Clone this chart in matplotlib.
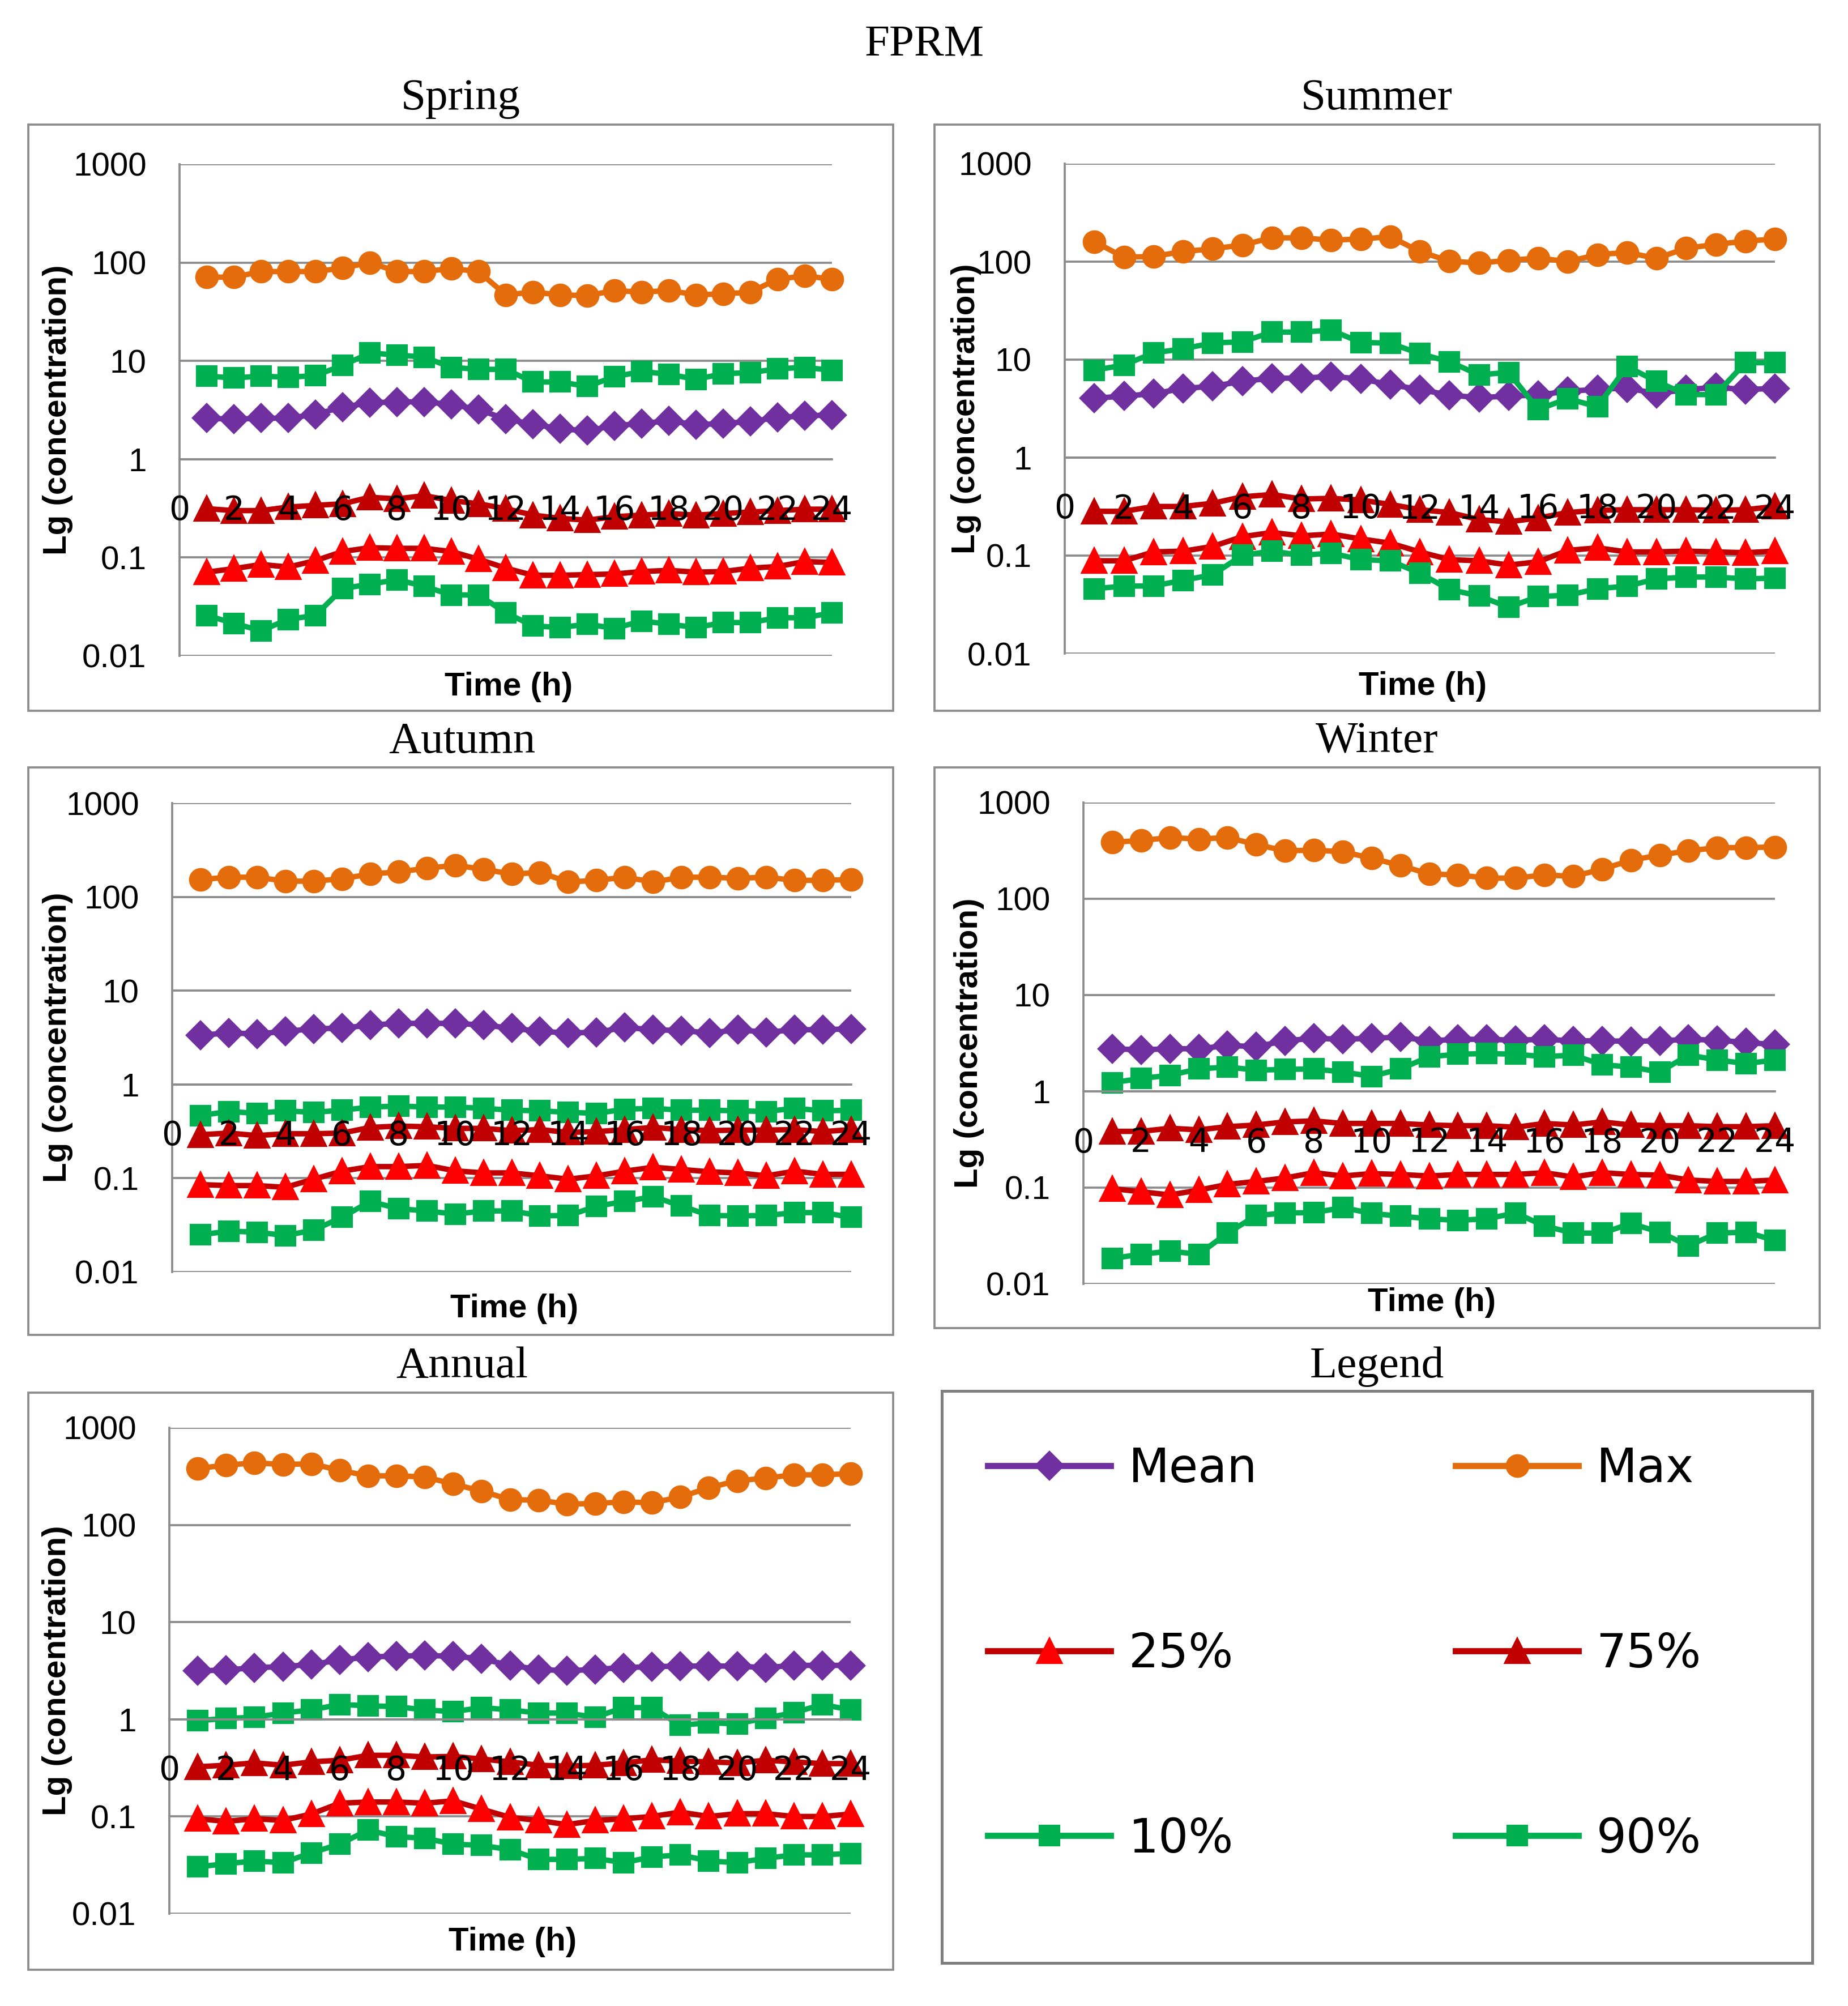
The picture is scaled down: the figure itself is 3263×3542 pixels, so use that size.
import matplotlib.pyplot as plt
from matplotlib.lines import Line2D
from matplotlib.patches import Rectangle

# hours of the day
hours = list(range(1, 25))
xticks = list(range(0, 25, 2))
yticks = [0.01, 0.1, 1, 10, 100, 1000]
ytick_labels = ['0.01', '0.1', '1', '10', '100', '1000']

spring_max = [71, 71, 81, 81, 81, 88, 100, 81, 81, 87, 81, 47, 50, 47, 46, 52, 50, 52, 47, 48, 50, 68, 73, 68]
spring_p90 = [7.0, 6.7, 7.0, 6.8, 7.1, 9.0, 12.0, 11.5, 10.9, 8.6, 8.2, 8.2, 6.1, 6.1, 5.5, 6.9, 7.8, 7.3, 6.5, 7.4, 7.6, 8.3, 8.6, 8.0]
spring_mean = [2.61, 2.55, 2.61, 2.61, 2.86, 3.39, 3.74, 3.83, 3.83, 3.6, 3.21, 2.55, 2.28, 2.03, 1.95, 2.19, 2.31, 2.46, 2.24, 2.31, 2.42, 2.65, 2.76, 2.82]
spring_p75 = [0.314, 0.30, 0.30, 0.326, 0.339, 0.352, 0.41, 0.395, 0.426, 0.38, 0.352, 0.314, 0.27, 0.25, 0.24, 0.26, 0.27, 0.28, 0.27, 0.28, 0.29, 0.30, 0.31, 0.31]
spring_p25 = [0.071, 0.077, 0.085, 0.080, 0.093, 0.115, 0.126, 0.124, 0.124, 0.115, 0.096, 0.078, 0.066, 0.066, 0.067, 0.068, 0.072, 0.074, 0.071, 0.072, 0.078, 0.081, 0.091, 0.089]
spring_p10 = [0.0258, 0.0214, 0.018, 0.0235, 0.0258, 0.0484, 0.0535, 0.0595, 0.051, 0.0416, 0.0416, 0.0274, 0.0202, 0.0194, 0.021, 0.019, 0.0226, 0.021, 0.0194, 0.0218, 0.0218, 0.0244, 0.0244, 0.0274]

summer_max = [160, 111, 113, 127, 135, 148, 175, 175, 166, 170, 180, 127, 101, 97, 103, 109, 100, 118, 124, 108, 137, 150, 162, 170]
summer_p90 = [7.8, 8.8, 11.7, 12.9, 14.8, 15.2, 19.1, 19.1, 20.0, 15.0, 14.7, 11.5, 9.5, 7.0, 7.4, 3.1, 4.0, 3.3, 8.5, 6.0, 4.4, 4.4, 9.3, 9.3]
summer_mean = [4.03, 4.25, 4.49, 5.07, 5.35, 6.0, 6.47, 6.47, 6.73, 6.37, 5.55, 4.96, 4.34, 4.09, 4.25, 4.34, 4.77, 4.96, 5.14, 4.49, 4.96, 5.2, 4.96, 5.07]
summer_p75 = [0.283, 0.283, 0.317, 0.317, 0.342, 0.398, 0.42, 0.378, 0.384, 0.369, 0.333, 0.294, 0.275, 0.233, 0.221, 0.242, 0.275, 0.29, 0.294, 0.294, 0.294, 0.29, 0.294, 0.317]
summer_p25 = [0.0885, 0.0885, 0.109, 0.111, 0.124, 0.156, 0.172, 0.159, 0.166, 0.148, 0.134, 0.109, 0.091, 0.0885, 0.080, 0.0865, 0.113, 0.12, 0.109, 0.109, 0.111, 0.109, 0.107, 0.111]
summer_p10 = [0.0459, 0.0488, 0.049, 0.056, 0.0637, 0.1007, 0.111, 0.1007, 0.106, 0.091, 0.0885, 0.066, 0.045, 0.0388, 0.0297, 0.0382, 0.0394, 0.0459, 0.0488, 0.0578, 0.0604, 0.0604, 0.0578, 0.059]

autumn_max = [153, 162, 162, 147, 147, 156, 175, 185, 202, 217, 197, 175, 182, 144, 150, 162, 144, 162, 162, 158, 162, 150, 150, 153]
autumn_mean = [3.35, 3.54, 3.46, 3.68, 3.92, 3.98, 4.3, 4.48, 4.48, 4.48, 4.3, 3.98, 3.68, 3.54, 3.6, 4.05, 3.83, 3.75, 3.54, 3.83, 3.6, 3.83, 3.83, 3.92]
autumn_p90 = [0.466, 0.515, 0.492, 0.523, 0.504, 0.531, 0.574, 0.588, 0.574, 0.574, 0.557, 0.531, 0.523, 0.504, 0.492, 0.544, 0.557, 0.531, 0.531, 0.523, 0.515, 0.557, 0.523, 0.531]
autumn_p75 = [0.291, 0.303, 0.285, 0.298, 0.298, 0.303, 0.348, 0.36, 0.354, 0.34, 0.34, 0.322, 0.33, 0.308, 0.314, 0.33, 0.348, 0.33, 0.322, 0.326, 0.326, 0.33, 0.314, 0.33]
autumn_p25 = [0.0855, 0.0835, 0.0835, 0.080, 0.0977, 0.119, 0.133, 0.133, 0.137, 0.12, 0.114, 0.114, 0.106, 0.0977, 0.106, 0.119, 0.131, 0.124, 0.117, 0.114, 0.106, 0.119, 0.11, 0.11]
autumn_p10 = [0.0249, 0.0273, 0.0266, 0.0245, 0.028, 0.0383, 0.0566, 0.0473, 0.0448, 0.0414, 0.0448, 0.0448, 0.0398, 0.040, 0.0503, 0.0566, 0.0636, 0.0506, 0.040, 0.0398, 0.040, 0.043, 0.043, 0.0383]

winter_max = [387, 402, 433, 417, 433, 366, 315, 320, 308, 264, 222, 181, 177, 164, 164, 177, 171, 203, 251, 285, 315, 340, 340, 345]
winter_mean = [2.77, 2.7, 2.77, 2.77, 2.99, 2.92, 3.35, 3.56, 3.47, 3.56, 3.66, 3.35, 3.47, 3.47, 3.4, 3.47, 3.35, 3.35, 3.31, 3.35, 3.47, 3.4, 3.22, 3.06]
winter_p90 = [1.23, 1.36, 1.47, 1.71, 1.79, 1.66, 1.69, 1.71, 1.59, 1.43, 1.71, 2.29, 2.43, 2.47, 2.43, 2.29, 2.38, 1.89, 1.79, 1.59, 2.38, 2.12, 1.94, 2.12]
winter_p75 = [0.384, 0.384, 0.414, 0.398, 0.43, 0.447, 0.482, 0.493, 0.464, 0.464, 0.464, 0.447, 0.44, 0.44, 0.424, 0.464, 0.447, 0.482, 0.447, 0.44, 0.44, 0.43, 0.43, 0.44]
winter_p25 = [0.0977, 0.0906, 0.084, 0.0942, 0.108, 0.116, 0.126, 0.143, 0.132, 0.14, 0.137, 0.132, 0.137, 0.137, 0.137, 0.143, 0.129, 0.143, 0.137, 0.135, 0.12, 0.116, 0.116, 0.12]
winter_p10 = [0.0184, 0.0203, 0.0219, 0.0203, 0.0337, 0.0513, 0.0545, 0.055, 0.062, 0.054, 0.0505, 0.0475, 0.0457, 0.0475, 0.0545, 0.040, 0.0337, 0.0337, 0.0424, 0.0345, 0.0249, 0.0337, 0.0345, 0.0283]

annual_max = [382, 412, 436, 419, 426, 365, 320, 320, 312, 264, 223, 182, 180, 164, 166, 173, 169, 194, 241, 285, 303, 328, 328, 337]
annual_mean = [3.15, 3.22, 3.4, 3.48, 3.67, 4.06, 4.39, 4.46, 4.53, 4.46, 4.19, 3.59, 3.27, 3.15, 3.27, 3.4, 3.48, 3.53, 3.53, 3.53, 3.4, 3.59, 3.59, 3.59]
annual_p90 = [0.97, 1.02, 1.05, 1.16, 1.25, 1.42, 1.38, 1.35, 1.25, 1.2, 1.32, 1.25, 1.16, 1.16, 1.05, 1.32, 1.32, 0.87, 0.92, 0.9, 1.03, 1.17, 1.42, 1.25]
annual_p75 = [0.325, 0.337, 0.356, 0.337, 0.365, 0.379, 0.426, 0.426, 0.41, 0.415, 0.39, 0.365, 0.337, 0.33, 0.337, 0.356, 0.383, 0.372, 0.365, 0.356, 0.379, 0.365, 0.35, 0.35]
annual_p25 = [0.0948, 0.0891, 0.0948, 0.0912, 0.106, 0.137, 0.141, 0.141, 0.137, 0.145, 0.119, 0.098, 0.091, 0.0824, 0.091, 0.0948, 0.1, 0.111, 0.1, 0.107, 0.107, 0.1, 0.1, 0.106]
annual_p10 = [0.0303, 0.0327, 0.0348, 0.0335, 0.0422, 0.052, 0.0724, 0.0621, 0.0597, 0.052, 0.0504, 0.0456, 0.0362, 0.0362, 0.0371, 0.0335, 0.0384, 0.0403, 0.0348, 0.0335, 0.0371, 0.0403, 0.0403, 0.0417]

series_names = ['Max', 'Mean', '90%', '75%', '25%', '10%']

seasons = [
    ('Spring', [spring_max, spring_mean, spring_p90, spring_p75, spring_p25, spring_p10]),
    ('Summer', [summer_max, summer_mean, summer_p90, summer_p75, summer_p25, summer_p10]),
    ('Autumn', [autumn_max, autumn_mean, autumn_p90, autumn_p75, autumn_p25, autumn_p10]),
    ('Winter', [winter_max, winter_mean, winter_p90, winter_p75, winter_p25, winter_p10]),
    ('Annual', [annual_max, annual_mean, annual_p90, annual_p75, annual_p25, annual_p10]),
]

styles = {
    'Mean': dict(color='#7030A0', marker='D', ms=8, mfc='#7030A0', mec='#7030A0'),
    'Max': dict(color='#E46C0A', marker='o', ms=9, mfc='#E46C0A', mec='#E46C0A'),
    '25%': dict(color='#C00000', marker='^', ms=10, mfc='#FF0000', mec='#FF0000'),
    '75%': dict(color='#C00000', marker='^', ms=10, mfc='#C00000', mec='#C00000'),
    '10%': dict(color='#00B050', marker='s', ms=8, mfc='#00B050', mec='#00B050'),
    '90%': dict(color='#00B050', marker='s', ms=8, mfc='#00B050', mec='#00B050'),
}

W, H = 3263, 3542
fig = plt.figure(figsize=(W / 300, H / 300), dpi=300)
GRID = '#8C8C8C'
SANS = 'Liberation Sans'
SERIF = 'Liberation Serif'


def fx(px):
    return px / W


def fy(py):
    return 1 - py / H


# layout in pixels: outer box, plot area, title position, label offsets
layout = {
    'Spring': dict(box=(50, 220, 1577, 1255), plot=(317, 290, 1469, 1158), title=(813, 174), ylab=-0.163, xlab=-0.032),
    'Summer': dict(box=(1650, 220, 3213, 1255), plot=(1880, 289, 3134, 1154), title=(2431, 174), ylab=-0.117, xlab=-0.036),
    'Autumn': dict(box=(50, 1355, 1577, 2357), plot=(304, 1418, 1503, 2246), title=(816, 1310), ylab=-0.146, xlab=-0.046),
    'Winter': dict(box=(1650, 1355, 3213, 2345), plot=(1913, 1417, 3134, 2267), title=(2431, 1310), ylab=-0.143, xlab=-0.007),
    'Annual': dict(box=(50, 2459, 1577, 3478), plot=(299, 2521, 1502, 3379), title=(816, 2413), ylab=-0.142, xlab=-0.027),
}

fig.text(fx(1632), fy(79), 'FPRM', ha='center', va='center', family=SERIF, fontsize=19)

for name, values in seasons:
    lay = layout[name]
    x0, y0, x1, y1 = lay['box']
    fig.add_artist(Rectangle((fx(x0), fy(y1)), fx(x1 - x0), (y1 - y0) / H,
                             transform=fig.transFigure, fill=False, edgecolor=GRID, linewidth=0.9))
    fig.text(fx(lay['title'][0]), fy(lay['title'][1]), name, ha='center', va='center',
             family=SERIF, fontsize=19)

    px0, py0, px1, py1 = lay['plot']
    ax = fig.add_axes([fx(px0), fy(py1), fx(px1 - px0), (py1 - py0) / H])
    ax.set_yscale('log')
    ax.set_ylim(0.01, 1000)
    ax.set_xlim(0, 24)
    ax.set_axisbelow(False)
    for yv in yticks:
        ax.axhline(yv, color=GRID, linewidth=0.9, zorder=1)
    for sname, vals in zip(series_names, values):
        ax.plot(hours, vals, linewidth=2.3, clip_on=False, zorder=2, **styles[sname])

    ax.set_yticks(yticks, ytick_labels)
    ax.yaxis.set_minor_locator(plt.NullLocator())
    ax.set_xticks(xticks)
    ax.tick_params(axis='y', length=0, pad=14, labelsize=14)
    ax.tick_params(axis='x', length=0, pad=15, labelsize=14)
    for lab in ax.get_xticklabels() + ax.get_yticklabels():
        lab.set_family(SANS)
    ax.spines['top'].set_visible(False)
    ax.spines['right'].set_visible(False)
    ax.spines['left'].set_color(GRID)
    ax.spines['left'].set_linewidth(0.9)
    ax.spines['bottom'].set_position(('data', 1))
    ax.spines['bottom'].set_color(GRID)
    ax.spines['bottom'].set_linewidth(0.9)

    ax.set_ylabel('Lg (concentration)', family=SANS, fontweight='bold', fontsize=14)
    ax.yaxis.set_label_coords(lay['ylab'], 0.5)
    ax.set_xlabel('Time (h)', family=SANS, fontweight='bold', fontsize=14)
    ax.xaxis.set_label_coords(0.504, lay['xlab'])

# legend panel
fig.text(fx(2431), fy(2413), 'Legend', ha='center', va='center', family=SERIF, fontsize=19)
lx0, ly0, lx1, ly1 = 1663, 2456, 3200, 3466
ax_leg = fig.add_axes([fx(lx0), fy(ly1), fx(lx1 - lx0), (ly1 - ly0) / H])
ax_leg.set_xticks([])
ax_leg.set_yticks([])
for sp in ax_leg.spines.values():
    sp.set_color('#7F7F7F')
    sp.set_linewidth(1.2)

legend_order = ['Mean', '25%', '10%', 'Max', '75%', '90%']
handles = [Line2D([], [], linewidth=2.6, **styles[n]) for n in legend_order]
ax_leg.legend(handles, legend_order, ncol=2, loc='upper left', bbox_to_anchor=(0.053, 0.904),
              frameon=False, borderpad=0, borderaxespad=0, handlelength=2.6, handletextpad=0.38,
              columnspacing=4.2, labelspacing=2.95, prop={'family': 'DejaVu Sans', 'size': 20})

fig.savefig('out.png', dpi=300)
